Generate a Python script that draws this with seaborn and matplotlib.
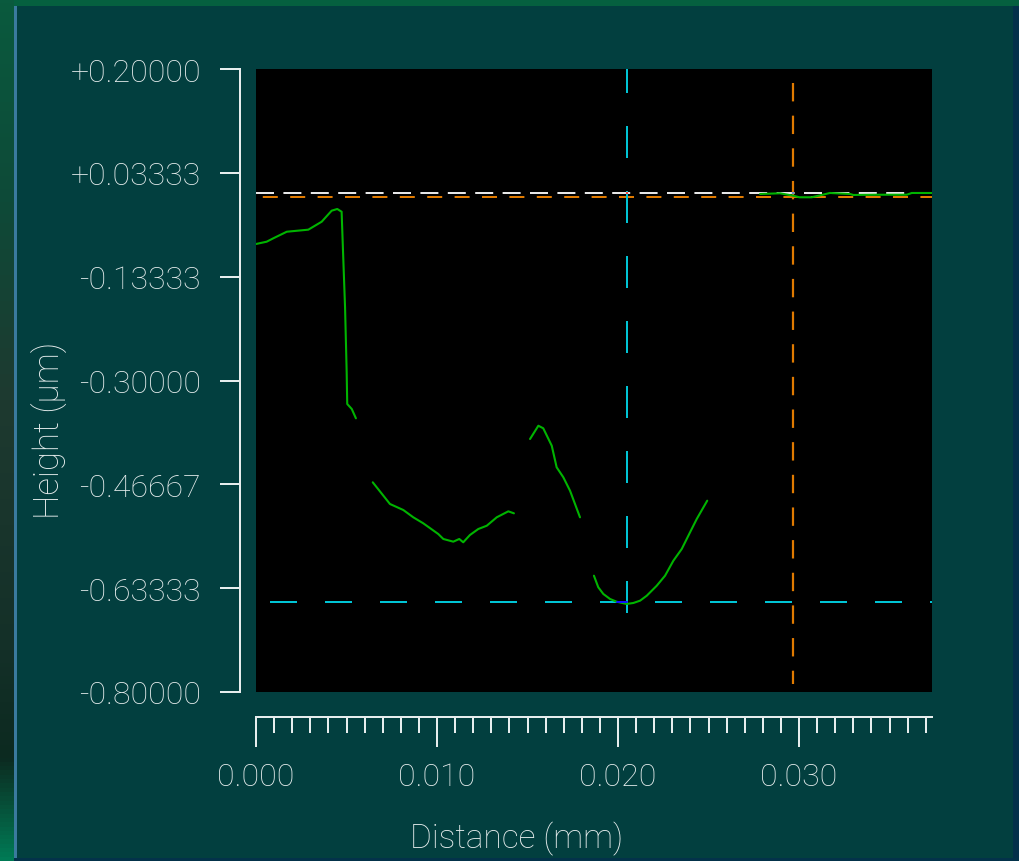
import numpy as np
import pandas as pd
import matplotlib
matplotlib.use("Agg")
import matplotlib.pyplot as plt
from matplotlib.patches import Rectangle
from matplotlib.ticker import FixedLocator, MultipleLocator
import seaborn as sns

# ---- surface profile, one list per continuous run (distance in mm, height in µm)
run1_x = [0.00000, 0.00059, 0.00096, 0.00170, 0.00289, 0.00363, 0.00418, 0.00449,
          0.00473, 0.00479, 0.00492, 0.00501, 0.00504, 0.00529, 0.00552]
run1_y = [-0.0809, -0.0772, -0.0717, -0.0612, -0.0579, -0.0451, -0.0274, -0.0247,
          -0.0291, -0.0782, -0.1825, -0.2868, -0.3377, -0.3457, -0.3607]

run2_x = [0.00645, 0.00740, 0.00814, 0.00869, 0.00924, 0.01007, 0.01035, 0.01090,
          0.01123, 0.01145, 0.01182, 0.01228, 0.01275, 0.01330, 0.01394, 0.01425]
run2_y = [-0.4634, -0.4982, -0.5079, -0.5196, -0.5292, -0.5464, -0.5544, -0.5587,
          -0.5544, -0.5597, -0.5480, -0.5384, -0.5331, -0.5196, -0.5100, -0.5132]

run3_x = [0.01514, 0.01560, 0.01587, 0.01634, 0.01661, 0.01698, 0.01735, 0.01790]
run3_y = [-0.3939, -0.3726, -0.3767, -0.4047, -0.4393, -0.4554, -0.4769, -0.5196]

run4_x = [0.01867, 0.01891, 0.01919, 0.01956, 0.01993, 0.02048, 0.02085, 0.02122,
          0.02159, 0.02214, 0.02260, 0.02306, 0.02352, 0.02398, 0.02435, 0.02493]
run4_y = [-0.6133, -0.6319, -0.6427, -0.6507, -0.6551, -0.6587, -0.6571, -0.6534,
          -0.6454, -0.6294, -0.6133, -0.5892, -0.5705, -0.5437, -0.5223, -0.4929]

run5_x = [0.02785, 0.02895, 0.02969, 0.03002, 0.03070, 0.03125, 0.03171, 0.03282,
          0.03300, 0.03429, 0.03595, 0.03623, 0.03733]
run5_y = [-0.0006, 0.0005, -0.0034, -0.0059, -0.0059, -0.0022, 0.0010, -0.0006,
          -0.0022, -0.0018, -0.0018, 0.0010, 0.0010]

# ---- cursor lines
ref_white_y = 0.0005
ref_orange_y = -0.0059
cursor_cyan_x = 0.02048
cursor_cyan_y = -0.6563
cursor_cyan_v_end = -0.6724
cursor_orange_x = 0.02965
cursor_orange_v_span = [0.178, -0.7876]

# ---- axes
x_max = 0.037348
y_tick_labels = ["+0.20000", "+0.03333", "-0.13333", "-0.30000",
                 "-0.46667", "-0.63333", "-0.80000"]
x_tick_labels = ["0.000", "0.010", "0.020", "0.030"]
x_ticks = [0.0, 0.010, 0.020, 0.030]

W, H = 1019, 862
BG = "#023f3f"
FG = "#e6eded"
GREEN = "#00b400"
CYAN = "#00c4d4"
ORANGE = "#e07a00"
WHITE = "#e6e6e6"
PX = 0.72  # points per pixel at 100 dpi

sns.set_theme(style="dark")
plt.rcParams.update({
    "font.family": ["Roboto", "DejaVu Sans"],
    "font.weight": "light",
    "lines.scale_dashes": False,
    "figure.facecolor": BG,
    "savefig.facecolor": BG,
})

fig = plt.figure(figsize=(W / 100, H / 100), dpi=100)

# window frame decorations
grad_ax = fig.add_axes([0, 0, 14 / W, 1])
grad_ax.set_axis_off()
stops = np.array([[0x0a, 0x5a, 0x3e], [0x0e, 0x4a, 0x38], [0x1e, 0x3a, 0x30],
                  [0x14, 0x30, 0x28], [0x0c, 0x2a, 0x20], [0x00, 0x7a, 0x55]]) / 255
pos = np.array([0, 200, 400, 650, 760, 862]) / 862
t = np.linspace(0, 1, 200)
grad = np.stack([np.interp(t, pos, stops[:, c]) for c in range(3)], axis=-1)
grad_ax.imshow(grad[:, None, :], aspect="auto", extent=[0, 1, 1, 0])
for (x0, y0, w, h, c) in [(14, 0, 3, H, "#3a7a9e"), (0, 0, W, 7, "#05603f"),
                          (1013, 7, 6, H, "#04304a"), (14, 859, W, 3, "#03324a")]:
    fig.add_artist(Rectangle((x0 / W, 1 - (y0 + h) / H), w / W, h / H,
                             transform=fig.transFigure, color=c, lw=0, zorder=0))

ax = fig.add_axes([256 / W, (H - 693) / H, 676 / W, 623 / H])
ax.set_facecolor("black")

runs = [(run1_x, run1_y), (run2_x, run2_y), (run3_x, run3_y),
        (run4_x, run4_y), (run5_x, run5_y)]
df = pd.concat([pd.DataFrame({"distance": xs, "height": ys, "run": i})
                for i, (xs, ys) in enumerate(runs)], ignore_index=True)

# cursor lines
ax.axhline(ref_white_y, color=WHITE, lw=2 * PX, linestyle=(0, (18 * PX, 9.4 * PX)), zorder=2)
ax.axhline(ref_orange_y, color=ORANGE, lw=2 * PX,
           linestyle=(20.6 * PX, (15 * PX, 12.4 * PX)), zorder=2)
ax.axhline(cursor_cyan_y, color=CYAN, lw=2 * PX,
           linestyle=(41 * PX, (27 * PX, 28 * PX)), zorder=2)
ax.plot([cursor_cyan_x, cursor_cyan_x], [cursor_cyan_v_end, 0.25], color=CYAN,
        lw=2 * PX, linestyle=(0, (32 * PX, 33 * PX)), zorder=2)
ax.plot([cursor_orange_x, cursor_orange_x], cursor_orange_v_span, color=ORANGE,
        lw=2.2 * PX, linestyle=(0, (18.4 * PX, 14.25 * PX)), zorder=2)

sns.lineplot(data=df, x="distance", y="height", units="run", estimator=None,
             sort=False, color=GREEN, lw=1.5, ax=ax, legend=False, zorder=3)

# cursor markers
ax.plot([0.01993, cursor_cyan_x], [cursor_cyan_y, cursor_cyan_y], color="#1010ff",
        lw=2 * PX, zorder=4)
ax.plot([cursor_cyan_x], [ref_white_y], "s", ms=2, color="#ff4040", mew=0, zorder=4)
ax.plot([cursor_orange_x], [ref_white_y], "s", ms=2, color="#6a8ac8", mew=0, zorder=4)

ax.set_xlim(0, x_max)
ax.set_ylim(-0.8, 0.2)
ax.set_xlabel("")
ax.set_ylabel("")
ax.grid(False)

for side in ["top", "right"]:
    ax.spines[side].set_visible(False)
ax.spines["left"].set_position(("outward", 16 * PX))
ax.spines["left"].set_bounds(-0.8, 0.2)
ax.spines["bottom"].set_position(("outward", 24.5 * PX))
ax.spines["bottom"].set_bounds(0, x_max)
for side in ["left", "bottom"]:
    ax.spines[side].set_visible(True)
    ax.spines[side].set_color(FG)
    ax.spines[side].set_linewidth(2 * PX)

y_ticks = [float(s) for s in y_tick_labels]
ax.yaxis.set_major_locator(FixedLocator(y_ticks))
ax.set_yticklabels(y_tick_labels)
ax.xaxis.set_major_locator(FixedLocator(x_ticks))
ax.set_xticklabels(x_tick_labels)
ax.xaxis.set_minor_locator(MultipleLocator(0.001))

ax.tick_params(axis="y", which="major", left=True, direction="out", length=20 * PX,
               width=2 * PX, color=FG, labelcolor=FG, labelsize=23, pad=19 * PX)
ax.tick_params(axis="x", which="major", bottom=True, direction="out", length=29.5 * PX,
               width=2 * PX, color=FG, labelcolor=FG, labelsize=23, pad=16 * PX)
ax.tick_params(axis="x", which="minor", bottom=True, direction="out", length=16 * PX,
               width=2 * PX, color=FG)

fig.text(50 / W, 1 - 430 / H, "Height (µm)", rotation=90, ha="center", va="center",
         color=FG, fontsize=25)
fig.text(517 / W, 1 - 839 / H, "Distance (mm)", ha="center", va="center",
         color=FG, fontsize=24)

fig.savefig("out.png", dpi=100, facecolor=BG)
